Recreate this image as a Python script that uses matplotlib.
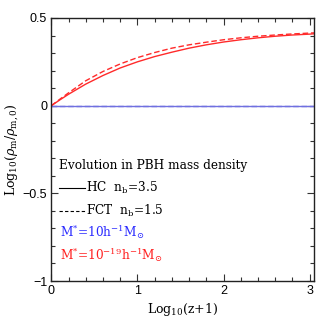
import matplotlib
matplotlib.use('Agg')
import matplotlib.pyplot as plt
from matplotlib.ticker import MultipleLocator

# log10(z+1) samples
logz = [0, 0.1, 0.2, 0.4, 0.6, 0.8, 1.0, 1.2, 1.4, 1.6, 1.8, 2.0,
        2.2, 2.4, 2.6, 2.8, 3.0, 3.05]
# M* = 10^-19 h^-1 Msun (red)
red_hc  = [0, 0.033, 0.065, 0.123, 0.172, 0.215, 0.250, 0.280, 0.305, 0.328,
           0.347, 0.363, 0.376, 0.387, 0.396, 0.403, 0.408, 0.410]
red_fct = [0, 0.037, 0.073, 0.142, 0.195, 0.238, 0.274, 0.303, 0.328, 0.347,
           0.362, 0.376, 0.387, 0.396, 0.403, 0.409, 0.414, 0.415]
# M* = 10 h^-1 Msun (blue) - flat
blue_hc  = [0.0]*len(logz)
blue_fct = [0.0]*len(logz)

xticks  = [0, 1, 2, 3]
xlabels = ['0', '1', '2', '3']
yticks  = [-1, -0.5, 0, 0.5]
ylabels = ['\u22121', '\u22120.5', '0', '0.5']

plt.rcParams['mathtext.fontset'] = 'dejavuserif'
serif = 'DejaVu Serif'
fs = 8.7

fig = plt.figure(figsize=(3.32, 3.32), dpi=100)
ax = fig.add_axes([0.1545, 0.1536, 0.7913, 0.7922])

ax.plot(logz, blue_hc, color='#7070e0', lw=1.0)
ax.plot(logz, blue_fct, color='#7070e0', lw=1.0, ls=(0, (4, 2)))
ax.plot(logz, red_hc, color='#ff2a2a', lw=1.0)
ax.plot(logz, red_fct, color='#ff2a2a', lw=1.0, ls=(0, (4, 2)))

ax.set_xlim(0, 3.05)
ax.set_ylim(-1, 0.5)
ax.set_xticks(xticks)
ax.set_xticklabels(xlabels, family='Liberation Sans', fontsize=9)
ax.set_yticks(yticks)
ax.set_yticklabels(ylabels, family='Liberation Sans', fontsize=9)
ax.xaxis.set_minor_locator(MultipleLocator(0.2))
ax.yaxis.set_minor_locator(MultipleLocator(0.1))
ax.tick_params(which='both', direction='in', top=True, right=True,
               color='#333333', width=0.8)
ax.tick_params(which='major', length=5, pad=3)
ax.tick_params(which='minor', length=3)
for s in ax.spines.values():
    s.set_linewidth(1.0)
    s.set_color('#222222')

ax.set_xlabel(r'Log$_{10}$(z+1)', family=serif, fontsize=9, labelpad=3)
ax.set_ylabel(r'Log$_{10}$($\rho_\mathrm{m}/\rho_\mathrm{m,0}$)',
              family=serif, fontsize=9, labelpad=2)

# legend block
tr = ax.transAxes
ax.text(0.029, 0.441, 'Evolution in PBH mass density', transform=tr,
        family=serif, fontsize=fs, va='center')
ax.plot([0.029, 0.128], [0.354, 0.354], transform=tr, color='k', lw=0.8)
ax.text(0.131, 0.354, r'HC  n$_\mathrm{b}$=3.5', transform=tr,
        family=serif, fontsize=fs, va='center')
ax.plot([0.029, 0.128], [0.266, 0.266], transform=tr, color='k', lw=0.8,
        ls=(0, (3, 2)))
ax.text(0.131, 0.266, r'FCT  n$_\mathrm{b}$=1.5', transform=tr,
        family=serif, fontsize=fs, va='center')
ax.text(0.033, 0.186, r'M$^{*}$=10h$^{-1}$M$_{\odot}$', transform=tr,
        family=serif, fontsize=fs, va='center', color='#2a2aff')
ax.text(0.033, 0.099, r'M$^{*}$=10$^{-19}$h$^{-1}$M$_{\odot}$', transform=tr,
        family=serif, fontsize=fs, va='center', color='#ff2020')

fig.savefig('out.png', dpi=100)
